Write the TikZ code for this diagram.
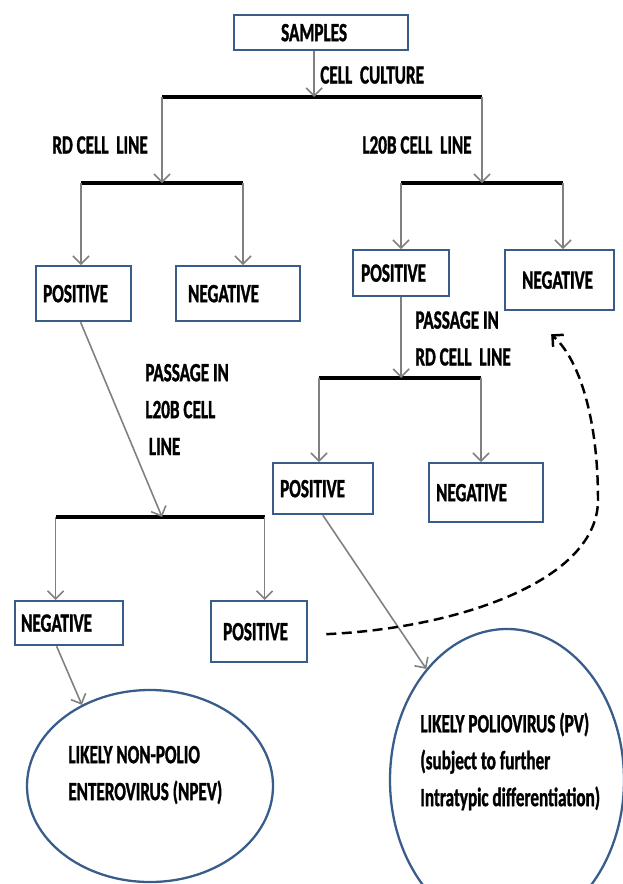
\documentclass[tikz,border=0pt]{standalone}
\usepackage{fontspec}
\setmainfont{Carlito}[FakeStretch=0.65, BoldFeatures={FakeBold=1.2}]
\usepackage{tikz}
\usetikzlibrary{calc,positioning,arrows.meta,shapes.geometric}
\definecolor{boxblue}{RGB}{56,93,138}
\definecolor{arrgray}{RGB}{128,128,128}
\tikzset{
	every node/.style={font=\fontsize{15}{21}\selectfont\bfseries},
	box/.style={draw=boxblue, line width=1.3pt, anchor=north west, align=left, inner ysep=0pt},
	oval/.style={draw=boxblue, line width=1.3pt, ellipse, inner sep=0pt},
	txt/.style={anchor=west, align=left, inner sep=0pt},
	bar/.style={line width=1.8pt, black},
	arr/.style={-{Straight Barb[length=1.6mm,width=3.2mm]}, arrgray, line width=0.9pt},
	back/.style={-{Straight Barb[length=1.6mm,width=3.2mm]}, black, line width=1.4pt, dash pattern=on 2mm off 1.1mm},
}

\begin{document}
\begin{tikzpicture}[x=0.2mm, y=-0.2mm]
	\useasboundingbox (0,0) rectangle (623,884);

	% boxes
	\node[box, minimum width=34.8mm, minimum height=7mm, inner xsep=9.4mm, text width=16mm] (samples) at (233,14) {SAMPLES};
	\node[box, minimum width=19mm, minimum height=11mm, inner xsep=1.4mm, text width=16.2mm] (rdpos) at (35,265) {POSITIVE};
	\node[box, minimum width=24.8mm, minimum height=11mm, inner xsep=2.4mm, text width=20mm] (rdneg) at (175,265) {NEGATIVE};
	\node[box, minimum width=19.2mm, minimum height=9.2mm, inner xsep=1.6mm, text width=16mm] (lpos) at (352,249) {POSITIVE};
	\node[box, minimum width=21.8mm, minimum height=12mm, inner xsep=3.4mm, text width=15mm] (lneg) at (504,249) {NEGATIVE};
	\node[box, minimum width=19.9mm, minimum height=10.2mm, inner xsep=1.4mm, text width=17.1mm] (rdpos2) at (272,462) {POSITIVE};
	\node[box, minimum width=22.8mm, minimum height=11.8mm, inner xsep=1.4mm, text width=20mm] (rdneg2) at (428,462) {NEGATIVE};
	\node[box, minimum width=21.6mm, minimum height=8.8mm, inner xsep=1.2mm, text width=19.2mm] (lneg2) at (14,600) {NEGATIVE};
	\node[box, minimum width=19.2mm, minimum height=12.2mm, inner xsep=2.4mm, text width=14.4mm] (lpos2) at (210,600) {POSITIVE};

	% results
	\node[oval, minimum width=49.2mm, minimum height=38.4mm] (npev) at (150,786) {};
	\node[txt] (npevtext) at (68,775) {LIKELY NON-POLIO\\ENTEROVIRUS (NPEV)};
	\node[oval, minimum width=46.8mm, minimum height=60.4mm] (pv) at (507,780) {};
	\node[txt] (pvtext) at (420,761.5) {LIKELY POLIOVIRUS (PV)\\(subject to further\\Intratypic differentiation)};

	% labels
	\node[txt] (cc) at (320,75) {CELL~ CULTURE};
	\node[txt] (rdl) at (52,145) {RD CELL~ LINE};
	\node[txt] (l20l) at (362,145) {L20B CELL~ LINE};
	\node[txt] (passrd) at (415,338.5) {PASSAGE IN\\RD CELL~ LINE};
	\node[txt] (passl) at (145,409.5) {PASSAGE IN\\L20B CELL\\\hspace*{2pt}LINE};

	% bars
	\coordinate (b1a) at (162,97);
	\coordinate (b1b) at (482,97);
	\coordinate (b2a) at (81,183);
	\coordinate (b2b) at (243,183);
	\coordinate (b2c) at (401,183);
	\coordinate (b2d) at (563,183);
	\coordinate (b3a) at (319,378);
	\coordinate (b3b) at (481,378);
	\coordinate (b4a) at (55.6,517);
	\coordinate (b4b) at (264.6,517);
	\coordinate (b4m) at (162,517);
	\draw[bar] (b1a) -- (b1b);
	\draw[bar] (b2a) -- (b2b);
	\draw[bar] (b2c) -- (b2d);
	\draw[bar] (b3a) -- (b3b);
	\draw[bar] (b4a) -- (b4b);

	% arrows
	\draw[arr] ([xshift=-1.4mm]samples.south) -- ([xshift=-1.4mm]samples.south |- b1a);
	\draw[arr] (b1a) -- (b1a |- b2a);
	\draw[arr] (b1b) -- (b1b |- b2c);
	\draw[arr] (b2a) -- (b2a |- rdpos.north);
	\draw[arr] (b2b) -- (b2b |- rdneg.north);
	\draw[arr] (b2c) -- (b2c |- lpos.north);
	\draw[arr] (b2d) -- (b2d |- lneg.north);
	\draw[arr] (lpos.south) -- (lpos.south |- b3a);
	\draw[arr] (b3a) -- (b3a |- rdpos2.north);
	\draw[arr] (b3b) -- (b3b |- rdneg2.north);
	\draw[arr] ([xshift=-0.6mm]rdpos.south) -- (b4m);
	\draw[arr] (b4a) -- (b4a |- lneg2.north);
	\draw[arr] (b4b) -- (b4b |- lpos2.north);
	\draw[arr] ([xshift=-2.5mm]lneg2.south) -- (npev.130);
	\draw[arr] (rdpos2.south) -- (pv.126);

	% dashed return
	\coordinate (backend) at ([xshift=-1.7mm,yshift=-4.6mm]lneg.south);
	\draw[back] ([xshift=3.6mm,yshift=-0.5mm]lpos2.east) .. controls (460,628) and (598,580) .. (598,500)
		.. controls (598,420) and (580,360) .. (backend);
\end{tikzpicture}
\end{document}
